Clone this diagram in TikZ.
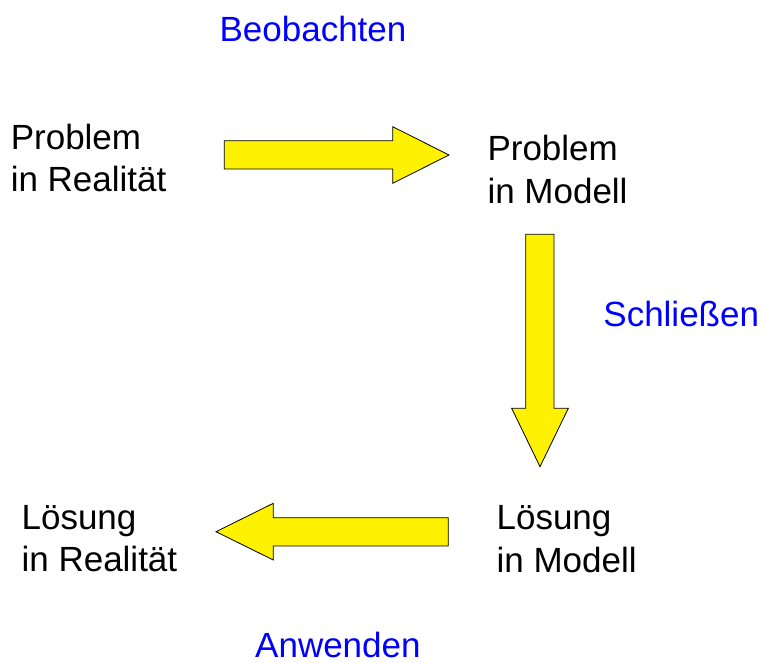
\documentclass[tikz,border=0pt]{standalone}
\usepackage{fontspec}
\setmainfont{Liberation Sans}
\begin{document}
\begin{tikzpicture}[x=1pt,y=-1pt,
  lbl/.style={anchor=base west,inner sep=0pt,align=left,font=\fontsize{35}{42.7}\selectfont},
  act/.style={lbl,text=blue},
  blockarrow/.style={fill=yellow,draw=black,line width=0.8pt,line join=miter}]
\useasboundingbox (0,0) rectangle (765,663);
\node[lbl] (pr) at (10.6,191.7) {Problem\\in Realität};
\node[lbl] (pm) at (487.3,203.3) {Problem\\in Modell};
\node[lbl] (lr) at (21.4,571.7) {Lösung\\in Realität};
\node[lbl] (lm) at (496.4,572.3) {Lösung\\in Modell};
\node[act] (beo) at (219.4,41.7) {Beobachten};
\node[act] (sch) at (603.2,326.7) {Schließen};
\node[act] (anw) at (255,657.7) {Anwenden};
\draw[blockarrow] (224.3,140.7) -- (392.7,140.7) -- (392.7,126.7) -- (449,155)
  -- (392.7,183.3) -- (392.7,169) -- (224.3,169) -- cycle;
\draw[blockarrow] (525.7,234.3) -- (554,234.3) -- (554,408.3) -- (568.3,408.3)
  -- (540,466.7) -- (511.7,408.3) -- (525.7,408.3) -- cycle;
\draw[blockarrow] (448.3,517.7) -- (273.3,517.7) -- (273.3,503.3) -- (216,531.7)
  -- (273.3,560) -- (273.3,546) -- (448.3,546) -- cycle;
\end{tikzpicture}
\end{document}
